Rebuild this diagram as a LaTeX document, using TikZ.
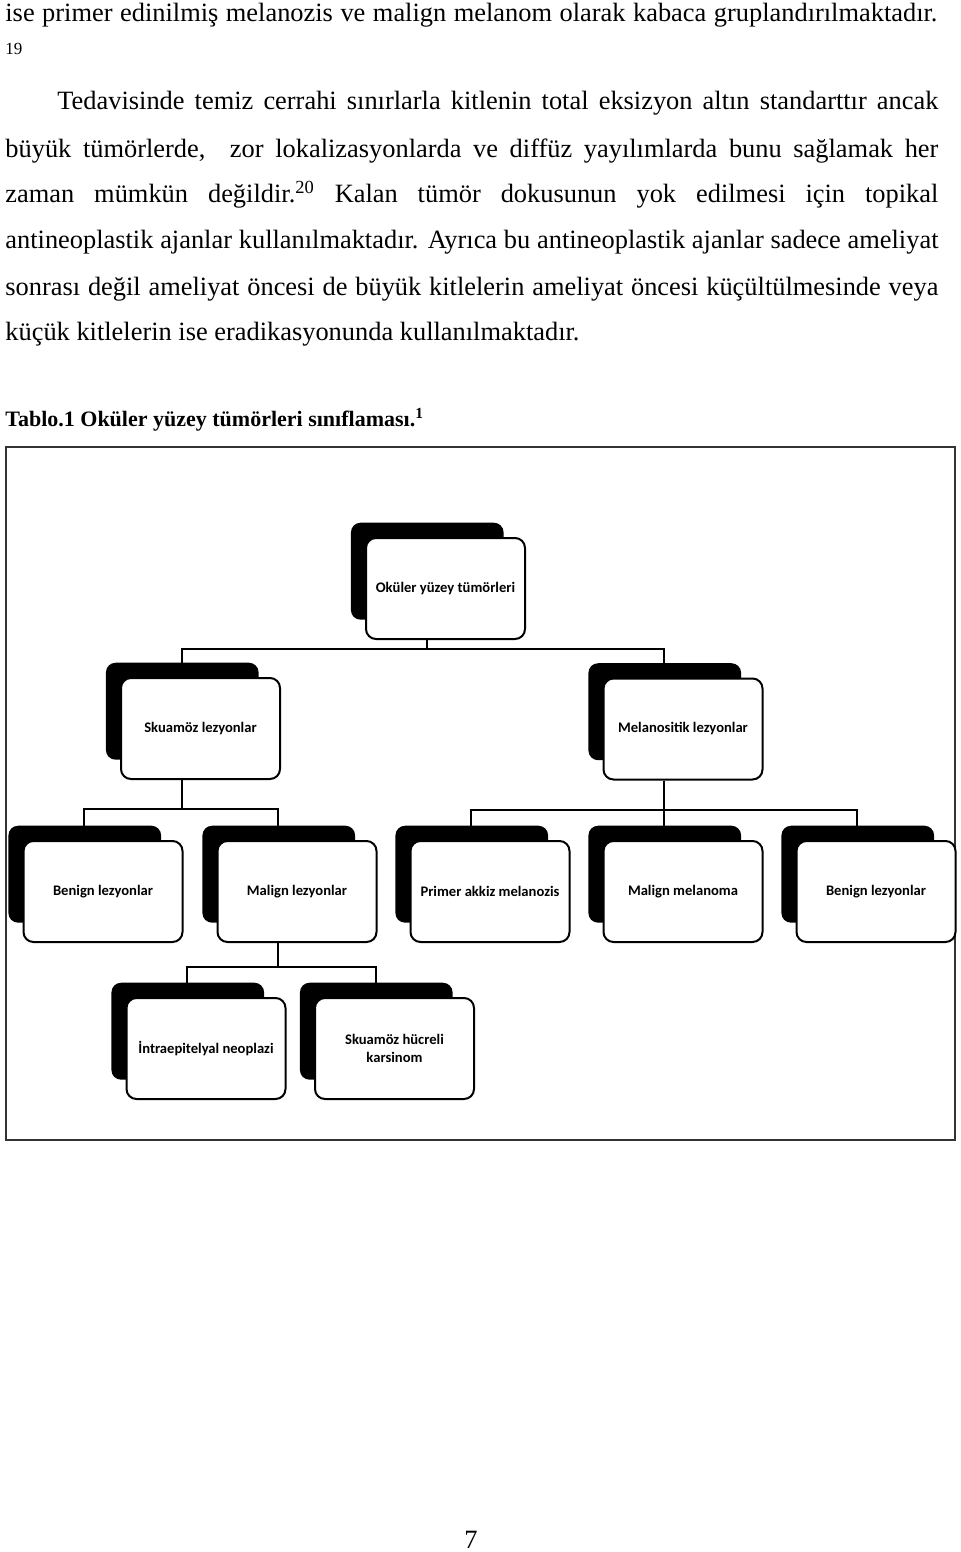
\documentclass[tikz,border=0pt]{standalone}
\usepackage{fontspec}
\setmainfont{Liberation Serif}
\newfontfamily\boxfont{Carlito}
\usetikzlibrary{shadows}

\begin{document}
\begin{tikzpicture}[x=0.5pt,y=-0.5pt,
  line/.style={anchor=base west, inner sep=0pt, font=\fontsize{13.2}{15}\selectfont},
  tbox/.style={draw, line width=1pt, rounded corners=5pt, fill=white,
    minimum width=79.5pt, minimum height=50.5pt, inner sep=1pt, align=center,
    font=\boxfont\bfseries\fontsize{7.3}{8.6}\selectfont,
    general shadow={fill=black, shadow xshift=-9.5pt, shadow yshift=9pt, shadow scale=0.96}},
  conn/.style={line width=1pt}]
  \useasboundingbox (0,0) rectangle (960,1552);

  \node[line] (l1) at (5,22) {\makebox[466pt][s]{ise primer edinilmiş melanozis ve malign melanom olarak kabaca gruplandırılmaktadır.}};
  \node[line, font=\fontsize{8.5}{9}\selectfont] (ref) at (5,55) {19};
  \node[line] (l2) at (57,110) {\makebox[440.5pt][s]{Tedavisinde temiz cerrahi sınırlarla kitlenin total eksizyon altın standarttır ancak}};
  \node[line] (l3) at (5,157) {\makebox[466.5pt][s]{büyük tümörlerde, \ zor lokalizasyonlarda ve diffüz yayılımlarda bunu sağlamak her}};
  \node[line] (l4) at (5,202) {\makebox[466.5pt][s]{zaman mümkün değildir.\textsuperscript{20} Kalan tümör dokusunun yok edilmesi için topikal}};
  \node[line] (l5) at (5,248) {\makebox[466.5pt][s]{antineoplastik ajanlar kullanılmaktadır. Ayrıca bu antineoplastik ajanlar sadece ameliyat}};
  \node[line] (l6) at (5,295) {\makebox[466.5pt][s]{sonrası değil ameliyat öncesi de büyük kitlelerin ameliyat öncesi küçültülmesinde veya}};
  \node[line] (l7) at (5,340) {küçük kitlelerin ise eradikasyonunda kullanılmaktadır.};
  \node[line, font=\fontsize{11}{13}\selectfont\bfseries] (cap) at (5,426) {Tablo.1 Oküler yüzey tümörleri sınıflaması.\textsuperscript{1}};

  \draw[line width=1pt, black!80] (6,447) rectangle (955,1140);

  \node[tbox] (root) at (445.5,588.5) {Oküler yüzey tümörleri};
  \node[tbox] (sk) at (200.5,728.5) {Skuamöz lezyonlar};
  \node[tbox] (mel) at (683,729) {Melanositik lezyonlar};
  \node[tbox] (ben) at (103,891.5) {Benign lezyonlar};
  \node[tbox] (mal) at (297,891.5) {Malign lezyonlar};
  \node[tbox] (pam) at (490,891.5) {Primer akkiz melanozis};
  \node[tbox] (mm) at (683,891.5) {Malign melanoma};
  \node[tbox] (benm) at (876,891.5) {Benign lezyonlar};
  \node[tbox] (ien) at (206,1048.5) {İntraepitelyal neoplazi};
  \node[tbox] (shk) at (394.5,1048.5) {Skuamöz hücreli\\karsinom};

  \foreach \c in {sk,mel}
    \draw[conn] ([xshift=-9.5pt]root.south) -- ++(0,9) -| ([xshift=-9.5pt]\c.north);
  \foreach \c in {ben,mal}
    \draw[conn] ([xshift=-9.5pt]sk.south) -- ++(0,29) -| ([xshift=-9.5pt]\c.north);
  \foreach \c in {pam,mm,benm}
    \draw[conn] ([xshift=-9.5pt]mel.south) -- ++(0,29) -| ([xshift=-9.5pt]\c.north);
  \foreach \c in {ien,shk}
    \draw[conn] ([xshift=-9.5pt]mal.south) -- ++(0,24) -| ([xshift=-9.5pt]\c.north);

  \node[line, anchor=base] (page) at (471,1548) {7};
\end{tikzpicture}
\end{document}
